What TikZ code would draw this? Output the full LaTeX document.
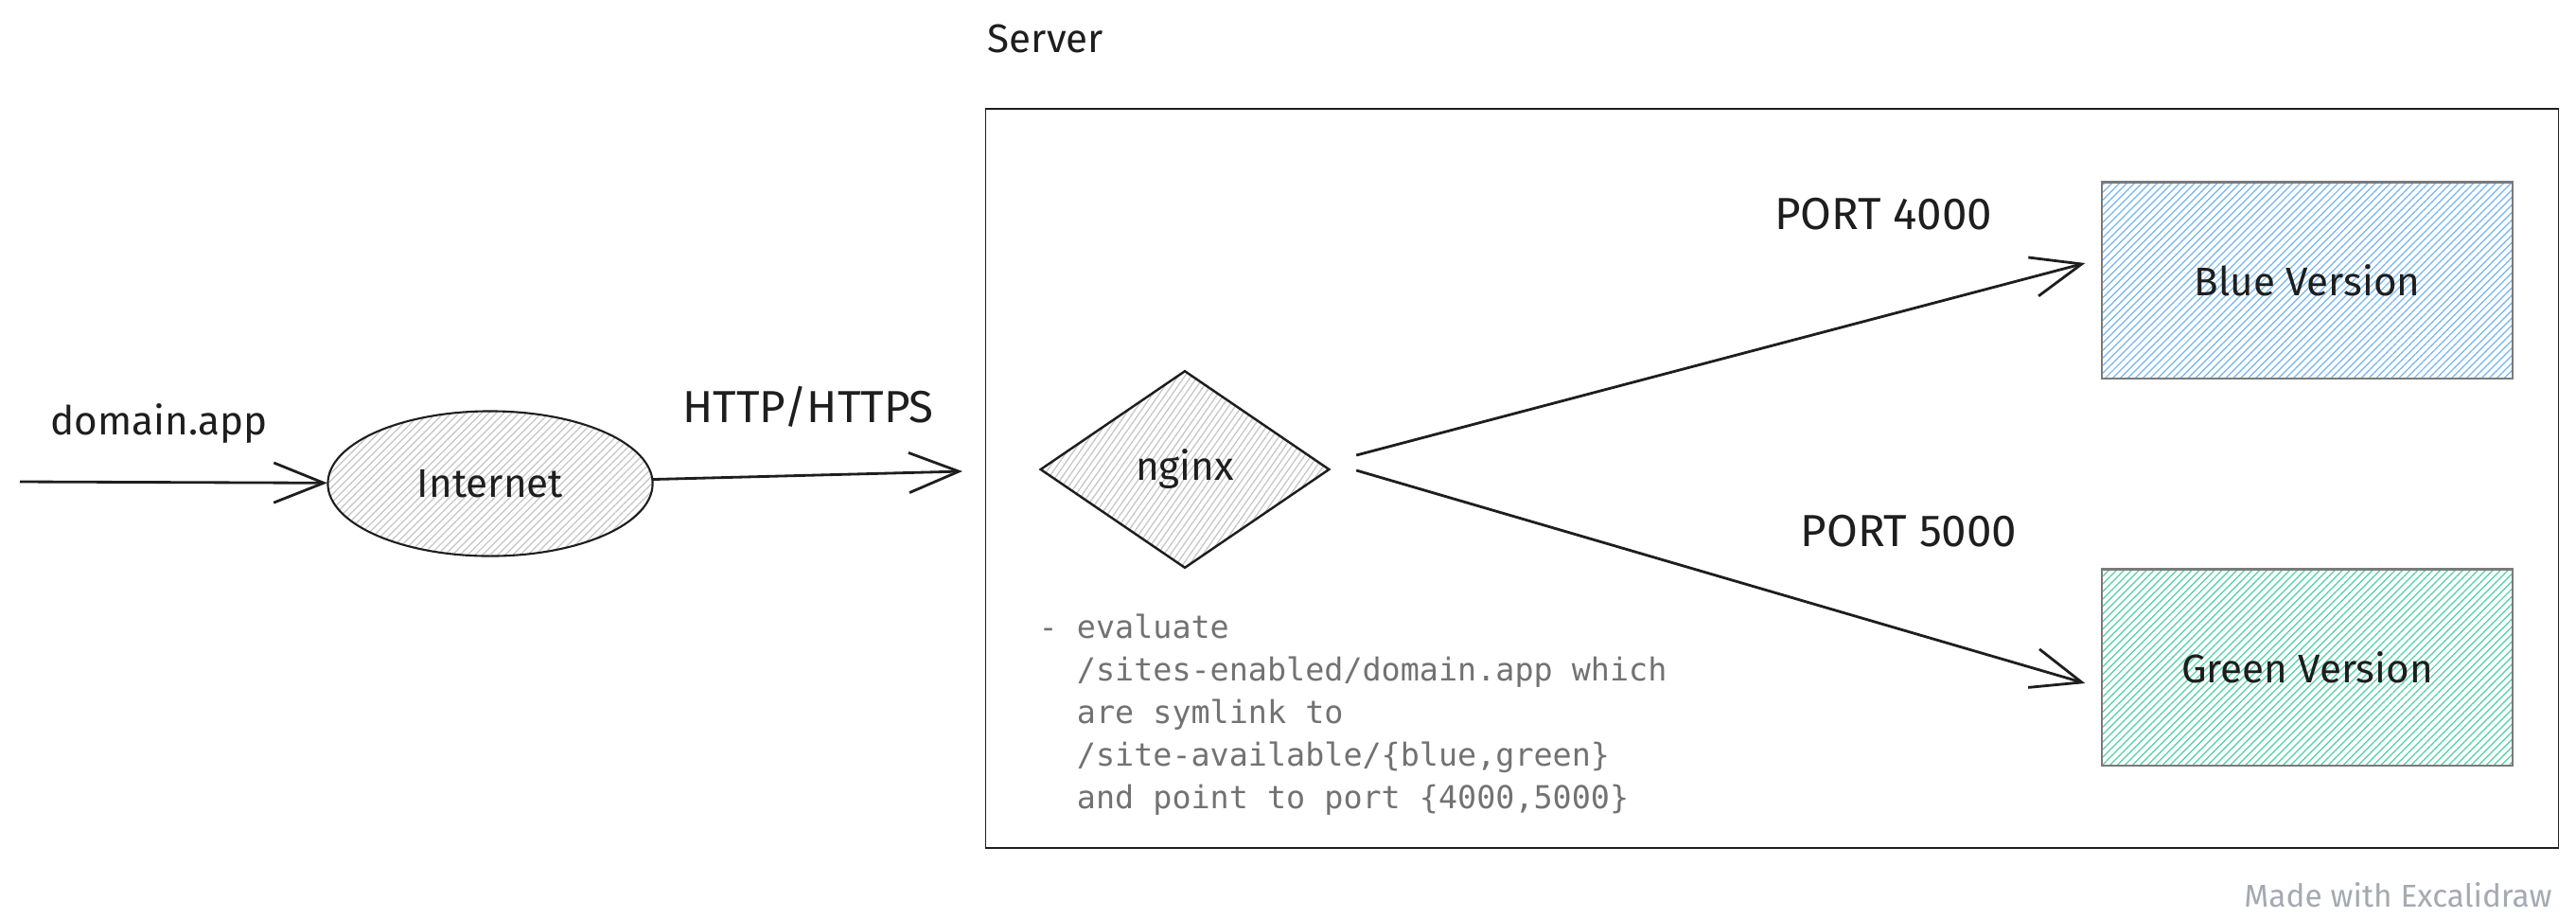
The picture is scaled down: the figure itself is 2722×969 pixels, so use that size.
\documentclass[tikz,border=0pt]{standalone}
\usepackage{fontspec}
\setmainfont{Fira Sans}
\newfontfamily\codefont{DejaVu Sans Mono}
\usetikzlibrary{shapes.geometric,arrows.meta,patterns.meta}
\definecolor{ink}{HTML}{1E1E1E}
\definecolor{hatchgray}{HTML}{C4C4C4}
\definecolor{hatchblue}{HTML}{74B4EE}
\definecolor{hatchgreen}{HTML}{4FCFA6}
\definecolor{boxgray}{HTML}{7A7A7A}
\definecolor{notegray}{HTML}{727272}
\definecolor{markgray}{HTML}{A3AAB2}
\begin{document}
\begin{tikzpicture}
		[x=0.01cm, y=-0.01cm,
		every node/.style={inner sep=0pt, text=ink, font=\fontsize{12}{14}\selectfont},
		big/.style={font=\fontsize{13.5}{15}\selectfont},
		hatch/.style={pattern={Lines[angle=#1,distance=1.6pt,line width=0.35pt]}},
		version/.style={rectangle, draw=boxgray, line width=0.6pt, minimum width=4.33cm, minimum height=2.07cm, hatch=45},
		arr/.style={-{Straight Barb[length=15pt,width=12pt]}, line width=0.8pt, draw=ink}]
		\useasboundingbox (0,0) rectangle (2722,969);
		\node[draw=ink, line width=0.45pt, minimum width=16.61cm, minimum height=7.81cm] (server) at (1872.5,505.5) {};
		\node[anchor=base west] (serverlabel) at (1043,55) {Server};
		\coordinate (enter) at (21,509);
		\node[ellipse, draw=ink, line width=0.6pt, minimum width=3.43cm, minimum height=1.53cm, hatch=45, pattern color=hatchgray] (internet) at (518,511) {Internet};
		\coordinate (http) at (1017,498);
		\node[diamond, draw=ink, line width=0.7pt, minimum width=3.05cm, minimum height=2.08cm, hatch=55, pattern color=hatchgray] (nginx) at (1252,496) {nginx};
		\node[version, pattern color=hatchblue] (blue) at (2438,296) {Blue Version};
		\node[version, pattern color=hatchgreen] (green) at (2438,705) {Green Version};
		
		\node (domain) at (168,448) {domain.app};
		\node[big] (proto) at (854,430) {HTTP/HTTPS};
		\node[big] (port4) at (1990,226) {PORT 4000};
		\node[big] (port5) at (2017,561) {PORT 5000};
		\node[anchor=north west, align=left, text=notegray, font=\codefont\fontsize{9.5}{12.8}\selectfont] (note) at (1097,648)
			{- evaluate\\ \hphantom{- }/sites-enabled/domain.app which\\ \hphantom{- }are symlink to\\ \hphantom{- }/site-available/\{blue,green\}\\ \hphantom{- }and point to port \{4000,5000\}};
		\node[text=markgray, font=\fontsize{9.5}{11}\selectfont] (made) at (2534,946) {Made with Excalidraw};
		
		\draw[arr] (enter) -- (internet);
		\draw[arr] (internet) -- (http);
		\draw[arr] ([shift={(28,-15)}]nginx.east) -- ([shift={(-17,-18)}]blue.west);
		\draw[arr] ([shift={(28,1)}]nginx.east) -- ([shift={(-17,17)}]green.west);
		\end{tikzpicture}
\end{document}
